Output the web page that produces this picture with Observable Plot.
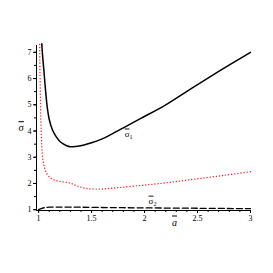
<!DOCTYPE html>
<html>
<head>
<meta charset="utf-8">
<script src="https://cdn.jsdelivr.net/npm/d3@7"></script>
<script src="https://cdn.jsdelivr.net/npm/@observablehq/plot@0.6"></script>
<style>
  html, body { margin: 0; padding: 0; background: #fff; }
</style>
</head>
<body>
<div id="chart"></div>
<script>
// sigma_1 (solid black)
const s1A = [1.03, 1.035, 1.04, 1.05, 1.06, 1.07, 1.08, 1.10, 1.13, 1.17, 1.21, 1.26, 1.30, 1.35, 1.42, 1.5, 1.6, 1.68, 1.8, 1.96, 2.2, 2.44, 2.7, 3.0];
const s1V = [7.33, 7.0, 6.75, 6.3, 5.8, 5.35, 4.95, 4.45, 4.05, 3.76, 3.57, 3.45, 3.40, 3.41, 3.46, 3.55, 3.7, 3.86, 4.12, 4.47, 5.0, 5.62, 6.27, 7.0];
// sigma_2 (red dotted)
const s2A = [1.010, 1.013, 1.017, 1.022, 1.028, 1.035, 1.045, 1.06, 1.08, 1.11, 1.15, 1.2, 1.25, 1.3, 1.35, 1.4, 1.45, 1.5, 1.6, 1.77, 2.03, 2.25, 2.48, 2.75, 3.0];
const s2V = [7.3, 6.2, 5.2, 4.3, 3.6, 3.1, 2.8, 2.55, 2.36, 2.22, 2.13, 2.08, 2.05, 2.01, 1.93, 1.86, 1.81, 1.79, 1.79, 1.85, 1.95, 2.05, 2.17, 2.31, 2.45];
// third curve (dashed black)
const s3A = [1.0, 1.03, 1.06, 1.1, 1.2, 1.4, 1.7, 2.0, 2.5, 3.0];
const s3V = [1.0, 1.05, 1.08, 1.095, 1.1, 1.095, 1.08, 1.07, 1.055, 1.04];

const xMajor = [1, 1.5, 2, 2.5, 3];
const xMajorLabels = ["1", "1.5", "2", "2.5", "3"];
const xMinor = d3.range(10, 31).map(d => d / 10);
const yMajor = [1, 2, 3, 4, 5, 6, 7];
const yMinor = d3.range(2, 15).map(d => d / 2);
const xDomain = [0.98, 3];
const yDomain = [0.97, 7.26];

const toRows = (A, V) => A.map((a, i) => ({a, v: V[i]}));
const d1 = toRows(s1A, s1V);
const d2 = toRows(s2A, s2V);
const d3rows = toRows(s3A, s3V);

const chart = Plot.plot({
  width: 273,
  height: 273,
  marginLeft: 36,
  marginRight: 23,
  marginTop: 45,
  marginBottom: 63,
  style: {fontFamily: "Liberation Serif", fontSize: "8px", background: "#fff", color: "#000"},
  x: {domain: xDomain},
  y: {domain: yDomain},
  marks: [
    Plot.ruleY([yDomain[0]], {stroke: "#000", strokeWidth: 1}),
    Plot.ruleX([xDomain[0]], {stroke: "#000", strokeWidth: 1}),
    Plot.line(d3rows, {x: "a", y: "v", stroke: "#000", strokeWidth: 1.3, strokeDasharray: "6,3", curve: "catmull-rom"}),
    Plot.line(d2, {x: "a", y: "v", stroke: "#ff2020", strokeWidth: 1.4, strokeDasharray: "0.1,3", strokeLinecap: "round", curve: "catmull-rom"}),
    Plot.line(d1, {x: "a", y: "v", stroke: "#000", strokeWidth: 1.5, curve: "catmull-rom"}),
    Plot.axisX({ticks: xMinor, tickSize: 2, tickFormat: () => "", label: null}),
    Plot.axisX({ticks: xMajor, tickSize: 3, tickPadding: 2, tickFormat: d => xMajorLabels[xMajor.indexOf(d)], fill: "#000", fontSize: 8, label: null}),
    Plot.axisY({ticks: yMinor, tickSize: 2, tickFormat: () => "", label: null}),
    Plot.axisY({ticks: yMajor, tickSize: 3, tickPadding: 2, tickFormat: d => String(d), label: null}),
    Plot.text(["σ1"], {x: 1.849, y: 3.9, text: d => d, fontSize: 9}),
    Plot.text(["σ2"], {x: 2.075, y: 1.34, text: d => d, fontSize: 9}),
    Plot.text(["σ"], {frameAnchor: "left", dx: -18, text: d => d, fontSize: 10}),
    Plot.text(["a"], {frameAnchor: "bottom", dx: 31, dy: 15, text: d => d, fontSize: 10, fontStyle: "italic"})
  ]
});

// Typeset overbars and subscripts on the symbol labels
d3.select(chart).selectAll("text").each(function() {
  const el = d3.select(this);
  const t = el.text();
  if (t === "σ1" || t === "σ2") {
    el.text(null);
    el.append("tspan").style("text-decoration", "overline").text("σ");
    el.append("tspan").attr("font-size", 6).attr("dy", "0.35em").text(t.slice(1));
  } else if (t === "σ" || t === "a") {
    el.style("text-decoration", "overline");
  }
});
document.getElementById("chart").appendChild(chart);
</script>
</body>
</html>
